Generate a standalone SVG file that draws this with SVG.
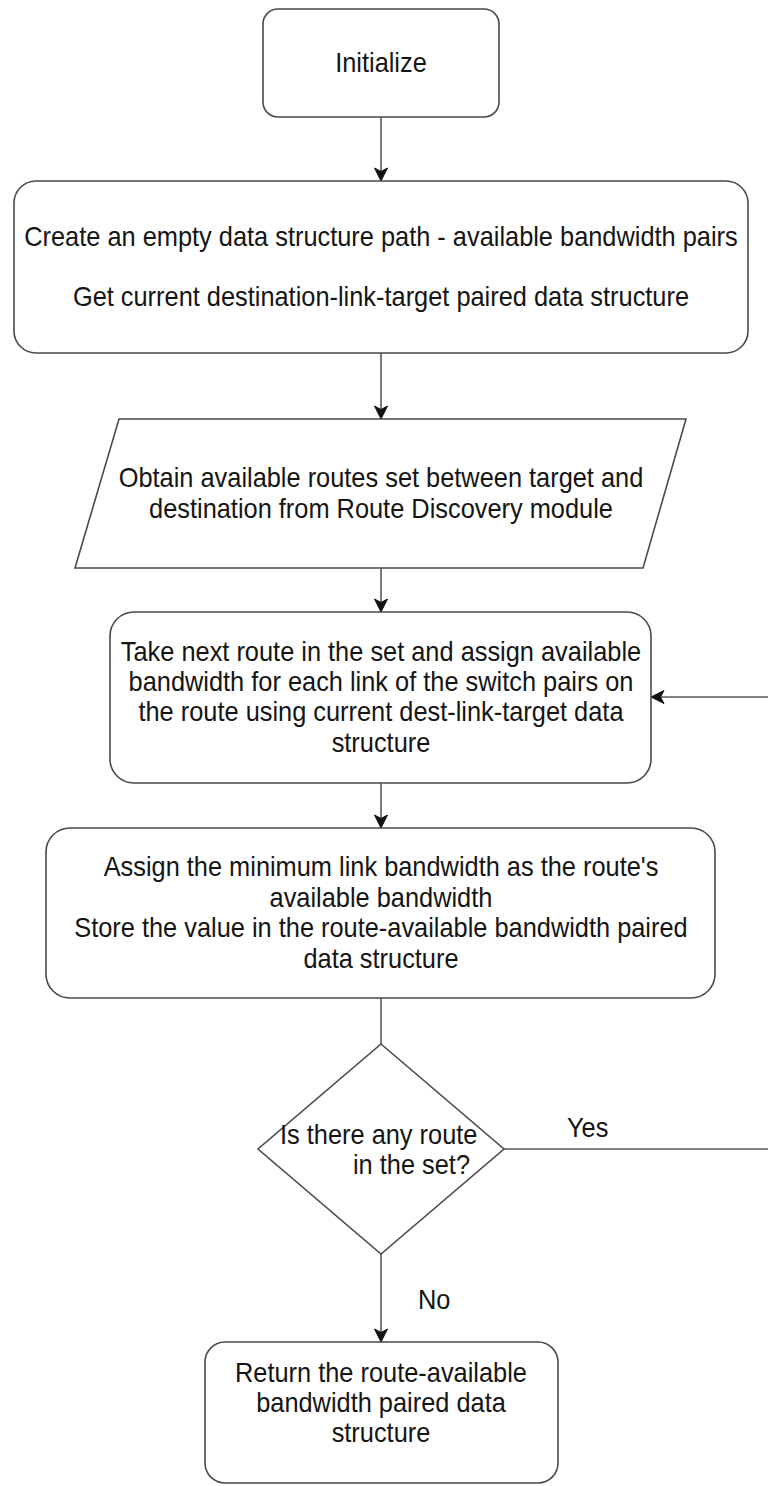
<svg xmlns="http://www.w3.org/2000/svg" width="768" height="1486" viewBox="0 0 768 1486">
  <style>
    .shape { fill: #ffffff; stroke: #4a4a4a; stroke-width: 1.6; }
    .edge { fill: none; stroke: #5a5a5a; stroke-width: 1.6; }
    .lbl { font-family: "Liberation Sans", Arial, sans-serif; font-size: 27px; fill: #151515; }
    .c { text-anchor: middle; }
  </style>
  <defs>
    <marker id="arrow" markerUnits="userSpaceOnUse" markerWidth="16" markerHeight="16" viewBox="-14 -8 16 16" refX="0" refY="0" orient="auto">
      <path d="M0,0 L-13,-6.5 L-9.5,0 L-13,6.5 Z" fill="#111111" stroke="#111111" stroke-width="1"/>
    </marker>
  </defs>
  <rect width="768" height="1486" fill="#ffffff"/>

  <!-- connectors -->
  <g id="connectors">
    <path class="edge" d="M381,117 V181" marker-end="url(#arrow)"/>
    <path class="edge" d="M381,353 V419" marker-end="url(#arrow)"/>
    <path class="edge" d="M381,568 V612" marker-end="url(#arrow)"/>
    <path class="edge" d="M381,783 V828" marker-end="url(#arrow)"/>
    <path class="edge" d="M381,998 V1044"/>
    <path class="edge" d="M381,1254 V1342" marker-end="url(#arrow)"/>
    <path class="edge" d="M504,1149 H772 V697 H651" marker-end="url(#arrow)"/>
    <!-- edge labels; narrowed text, x values divided by 0.94 -->
    <g transform="scale(0.94,1)">
      <text class="lbl" x="603.2" y="1137">Yes</text>
      <text class="lbl" x="444.7" y="1309">No</text>
    </g>
  </g>

  <!-- start -->
  <g id="initialize">
    <rect class="shape" x="263" y="9" width="236" height="108" rx="15"/>
    <g transform="scale(0.94,1)">
      <text class="lbl c" x="405.3" y="72">Initialize</text>
    </g>
  </g>

  <g id="create-structures">
    <rect class="shape" x="14" y="181" width="734" height="172" rx="22"/>
    <g transform="scale(0.94,1)">
      <text class="lbl c" x="405.3" y="246">Create an empty data structure path - available bandwidth pairs</text>
      <text class="lbl c" x="405.3" y="306">Get current destination-link-target paired data structure</text>
    </g>
  </g>

  <g id="obtain-routes">
    <polygon class="shape" points="119,419 686,419 643,568 75,568"/>
    <g transform="scale(0.94,1)">
      <text class="lbl c" x="405.3" y="487">Obtain available routes set between target and</text>
      <text class="lbl c" x="405.3" y="518">destination from Route Discovery module</text>
    </g>
  </g>

  <g id="next-route">
    <rect class="shape" x="110" y="612" width="541" height="171" rx="24"/>
    <g transform="scale(0.94,1)">
      <text class="lbl c" x="405.3" y="661">Take next route in the set and assign available</text>
      <text class="lbl c" x="405.3" y="691">bandwidth for each link of the switch pairs on</text>
      <text class="lbl c" x="405.3" y="721">the route using current dest-link-target data</text>
      <text class="lbl c" x="405.3" y="752">structure</text>
    </g>
  </g>

  <g id="assign-minimum">
    <rect class="shape" x="46" y="828" width="669" height="170" rx="24"/>
    <g transform="scale(0.94,1)">
      <text class="lbl c" x="405.3" y="876">Assign the minimum link bandwidth as the route's</text>
      <text class="lbl c" x="405.3" y="907">available bandwidth</text>
      <text class="lbl c" x="405.3" y="937">Store the value in the route-available bandwidth paired</text>
      <text class="lbl c" x="405.3" y="968">data structure</text>
    </g>
  </g>

  <g id="any-route">
    <polygon class="shape" points="381,1044 504,1149 381,1254 258,1149"/>
    <g transform="scale(0.94,1)">
      <text class="lbl" x="297.9" y="1144">Is there any route</text>
      <text class="lbl" x="375.5" y="1174">in the set?</text>
    </g>
  </g>

  <g id="return-result">
    <rect class="shape" x="205" y="1342" width="353" height="141" rx="20"/>
    <g transform="scale(0.94,1)">
      <text class="lbl c" x="405.3" y="1382">Return the route-available</text>
      <text class="lbl c" x="405.3" y="1412">bandwidth paired data</text>
      <text class="lbl c" x="405.3" y="1442">structure</text>
    </g>
  </g>
</svg>
